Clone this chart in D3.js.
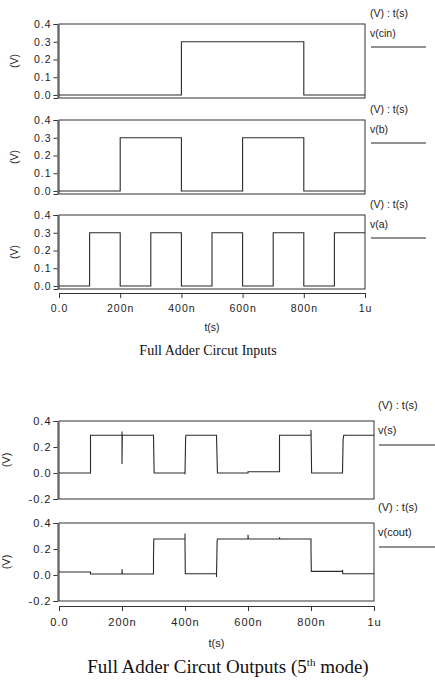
<!DOCTYPE html>
<html>
<head>
<meta charset="utf-8">
<script src="https://cdn.jsdelivr.net/npm/d3@7"></script>
<style>
  body { margin: 0; background: #fff; }
  text { font-family: "Liberation Sans", Arial, sans-serif; fill: #222; }
  .ttl { font-family: "Liberation Serif", "Times New Roman", serif; fill: #111; }
</style>
</head>
<body>
<script>
// === data: [time (ns), volts] breakpoints
var vCin = [[0, 0], [400, 0], [400, 0.3], [800, 0.3], [800, 0], [1000, 0]];
var vB = [[0, 0], [200, 0], [200, 0.3], [400, 0.3], [400, 0], [600, 0], [600, 0.3], [800, 0.3], [800, 0], [1000, 0]];
var vA = [[0, 0], [100, 0], [100, 0.3], [200, 0.3], [200, 0], [300, 0], [300, 0.3], [400, 0.3], [400, 0],
  [500, 0], [500, 0.3], [600, 0.3], [600, 0], [700, 0], [700, 0.3], [800, 0.3], [800, 0], [900, 0], [900, 0.3], [1000, 0.3]];
var vS = [[0, 0], [100, 0], [100, 0.29], [200, 0.29], [200, 0.32], [200, 0.07], [201, 0.29], [300, 0.29], [302, 0.0],
  [400, 0.0], [400, -0.01], [402, 0.27], [403, 0.29], [500, 0.29], [503, 0.0], [600, 0.0], [600, 0.01], [700, 0.01],
  [700, 0.29], [800, 0.29], [800, 0.33], [802, 0.0], [900, 0.0], [902, 0.26], [904, 0.29], [1000, 0.29]];
var vCout = [[0, 0.023], [100, 0.023], [100, 0.008], [200, 0.008], [200, 0.045], [201, 0.008], [300, 0.008], [300, 0.14],
  [301, 0.277], [400, 0.277], [400, 0.32], [400, 0.24], [401, 0.01], [500, 0.01], [500, -0.015], [502, 0.26], [503, 0.277],
  [600, 0.277], [600, 0.31], [601, 0.277], [700, 0.277], [700, 0.29], [701, 0.277], [800, 0.277], [800, 0.2], [801, 0.028],
  [900, 0.028], [900, 0.04], [901, 0.01], [1000, 0.01]];

var xTicks = [0, 200, 400, 600, 800, 1000];
var xTickLabels = ['0.0', '200n', '400n', '600n', '800n', '1u'];
var yTicksIn = [0, 0.1, 0.2, 0.3, 0.4];
var yTicksOut = [-0.2, 0, 0.2, 0.4];
var legendHead = '(V) : t(s)';
var titleIn = 'Full Adder Circut Inputs';

// === svg
var svg = d3.select('body').append('svg')
  .attr('width', 435)
  .attr('height', 680);

svg.append('rect').attr('width', 435).attr('height', 680).attr('fill', '#fff');

var fmt = d => d3.format('.1f')(d).replace('\u2212', '-');

// draw one waveform panel
function panel(p) {
  var x = d3.scaleLinear().domain([0, 1000]).range([p.left, p.right]);
  var y = d3.scaleLinear().domain(p.ydom).range([p.bottom, p.top]);

  svg.append('rect')
    .attr('x', p.left).attr('y', p.top)
    .attr('width', p.right - p.left).attr('height', p.bottom - p.top)
    .attr('fill', 'none').attr('stroke', '#333').attr('stroke-width', 1);

  var ax = svg.append('g')
    .attr('transform', `translate(${p.left - 1.5},0)`)
    .call(d3.axisLeft(y).tickValues(p.yticks).tickSize(4).tickPadding(2).tickFormat(fmt));
  ax.select('.domain').attr('stroke', '#333');
  ax.selectAll('.tick line').attr('stroke', '#333');
  ax.selectAll('.tick text')
    .style('font-size', p.fs + 'px')
    .style('letter-spacing', '1px')
    .attr('fill', '#333');

  var line = d3.line().x(d => x(d[0])).y(d => y(d[1]));
  svg.append('path')
    .datum(p.data)
    .attr('fill', 'none')
    .attr('stroke', '#2a2a2a')
    .attr('stroke-width', 1.1)
    .attr('d', line);

  // y label
  svg.append('text')
    .text('(V)')
    .attr('text-anchor', 'middle')
    .attr('transform', `translate(${p.ylabX}, ${(p.top + p.bottom) / 2}) rotate(-90)`)
    .style('font-size', p.fs + 'px');

  // legend
  svg.append('text')
    .text(legendHead)
    .attr('x', p.legX).attr('y', p.top - p.headOff)
    .attr('dy', '0.35em')
    .style('font-size', p.fs + 'px');
  svg.append('text')
    .text(p.name)
    .attr('x', p.legX).attr('y', p.top + 9)
    .attr('dy', '0.35em')
    .style('font-size', p.fs + 'px');
  svg.append('line')
    .attr('x1', p.legX + 1).attr('x2', p.legX2)
    .attr('y1', p.top + p.lineOff).attr('y2', p.top + p.lineOff)
    .attr('stroke', '#222');

  return x;
}

function xAxis(x, yPos, fs, labY) {
  var g = svg.append('g')
    .attr('transform', `translate(0, ${yPos})`)
    .call(d3.axisBottom(x).tickValues(xTicks).tickSize(5).tickPadding(7)
      .tickFormat((d, i) => xTickLabels[i]));
  g.select('.domain').attr('stroke', '#333');
  g.selectAll('.tick line').attr('stroke', '#333');
  g.selectAll('.tick text')
    .style('font-size', fs + 'px')
    .style('letter-spacing', '1px')
    .attr('fill', '#333');
  svg.append('text')
    .text('t(s)')
    .attr('text-anchor', 'middle')
    .attr('x', (x.range()[0] + x.range()[1]) / 2)
    .attr('y', labY).attr('dy', '0.35em')
    .style('font-size', fs + 'px');
}

// === inputs
var topCfg = { left: 59, right: 365, ydom: [-0.017, 0.4], yticks: yTicksIn, fs: 10.5, ylabX: 18,
  legX: 370, legX2: 426, headOff: 11, lineOff: 23 };
var xIn;
[[vCin, 'v(cin)', 24], [vB, 'v(b)', 120], [vA, 'v(a)', 215]].forEach(function(s) {
  xIn = panel(Object.assign({}, topCfg, { data: s[0], name: s[1], top: s[2], bottom: s[2] + 74 }));
});
xAxis(xIn, 293, 10.5, 327);

svg.append('text')
  .attr('class', 'ttl')
  .text(titleIn)
  .attr('text-anchor', 'middle')
  .attr('x', 208).attr('y', 350).attr('dy', '0.35em')
  .style('font-size', '14px');

// === outputs
var botCfg = { left: 59, right: 374, ydom: [-0.2, 0.4], yticks: yTicksOut, fs: 11, ylabX: 10,
  legX: 378, legX2: 435, headOff: 16, lineOff: 24 };
var xOut;
[[vS, 'v(s)', 421], [vCout, 'v(cout)', 523]].forEach(function(s) {
  xOut = panel(Object.assign({}, botCfg, { data: s[0], name: s[1], top: s[2], bottom: s[2] + 78 }));
});
xAxis(xOut, 606, 11, 643);

var t2 = svg.append('text')
  .attr('class', 'ttl')
  .attr('text-anchor', 'middle')
  .attr('x', 228).attr('y', 673)
  .style('font-size', '19px');
t2.append('tspan').text('Full Adder Circut Outputs (5');
t2.append('tspan').text('th').attr('dy', -7).style('font-size', '11px');
t2.append('tspan').text(' mode)').attr('dy', 7);
</script>
</body>
</html>
